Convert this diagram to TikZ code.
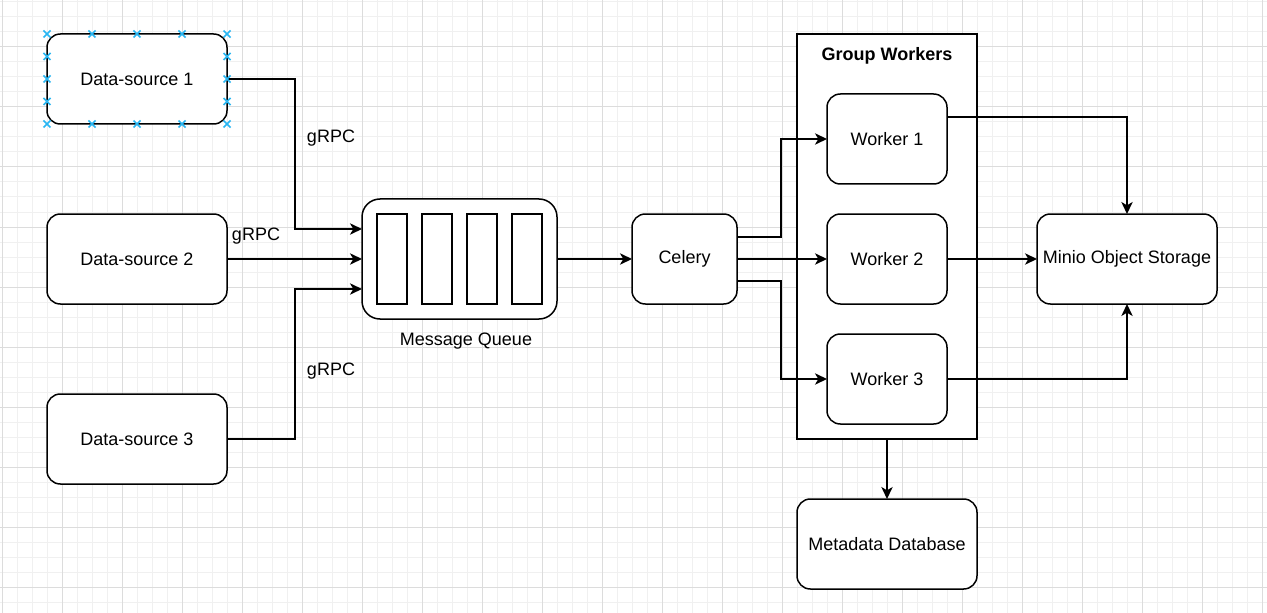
\documentclass[tikz,border=0pt]{standalone}
\usepackage{fontspec}
\setmainfont{Liberation Sans}
\usetikzlibrary{arrows.meta}
\definecolor{gridmajor}{RGB}{220,220,220}
\definecolor{gridminor}{RGB}{240,240,240}
\definecolor{handle}{RGB}{41,182,242}
\tikzset{
  box/.style={draw=black,fill=white,line width=1.125pt,rounded corners=10pt,
    inner sep=0pt,outer sep=0pt,minimum width=135pt,minimum height=67.5pt,
    font=\fontsize{13.5}{16}\selectfont},
  workerbox/.style={box,minimum width=90pt},
  link/.style={line width=1.125pt,-{Stealth[length=9pt,width=8.5pt,inset=2.5pt]}},
  label/.style={font=\fontsize{13.5}{16}\selectfont,inner sep=0pt}
}
\begin{document}
\begin{tikzpicture}[x=0.75pt,y=-0.75pt]
    \useasboundingbox (0,0) rectangle (1267,613);
    \fill[white] (0,0) rectangle (1267,613);
    % Grid
    \foreach \gx in {0,...,84} \draw[gridminor,line width=0.75pt] (2+15*\gx,0) -- (2+15*\gx,613);
    \foreach \gy in {0,...,40} \draw[gridminor,line width=0.75pt] (0,2+15*\gy) -- (1267,2+15*\gy);
    \foreach \gx in {0,...,21} \draw[gridmajor,line width=0.75pt] (2+60*\gx,0) -- (2+60*\gx,613);
    \foreach \gy in {0,...,9} \draw[gridmajor,line width=0.75pt] (0,47+60*\gy) -- (1267,47+60*\gy);
    % Fuentes de datos
    \node[box] (ds1) at (137,79) {Data-source 1};
    \node[box] (ds2) at (137,259) {Data-source 2};
    \node[box] (ds3) at (137,439) {Data-source 3};
    % Cola de mensajes
    \node[box,minimum width=146.25pt,minimum height=90pt,rounded corners=13.5pt] (mq) at (459.5,259) {};
    \foreach \cx [count=\ci] in {392,437,482,527}
      \node[draw=black,fill=white,line width=1.125pt,inner sep=0pt,
        minimum width=22.5pt,minimum height=67.5pt] (cell\ci) at (\cx,259) {};
    \node[label] (mqlabel) at (466,341) {Message Queue};
    \node[box,minimum width=78.75pt] (celery) at (684.5,259) {Celery};
    % Grupo de workers
    \node[draw=black,fill=white,line width=1.125pt,inner sep=0pt,outer sep=0pt,
      minimum width=135pt,minimum height=303.75pt] (group) at (887,236.5) {};
    \node[label,font=\fontsize{13.5}{16}\selectfont\bfseries] (grouplabel) at (887,56) {Group Workers};
    \node[workerbox] (w1) at (887,139) {Worker 1};
    \node[workerbox] (w2) at (887,259) {Worker 2};
    \node[workerbox] (w3) at (887,379) {Worker 3};
    \node[box] (minio) at (1127,259) {Minio Object Storage};
    \node[box] (meta) at (887,544) {Metadata Database};
    % Conexiones
    \draw[link] (ds1.east) -- ++(68,0) |- ([yshift=22.5pt]mq.west);
    \draw[link] (ds2.east) -- (mq.west);
    \draw[link] (ds3.east) -- ++(68,0) |- ([yshift=-22.5pt]mq.west);
    \draw[link] (mq.east) -- (celery.west);
    \draw[link] ([yshift=16.5pt]celery.east) -- ++(44,0) |- (w1.west);
    \draw[link] (celery.east) -- (w2.west);
    \draw[link] ([yshift=-16.5pt]celery.east) -- ++(44,0) |- (w3.west);
    \draw[link] ([yshift=16.5pt]w1.east) -| (minio.north);
    \draw[link] (w2.east) -- (minio.west);
    \draw[link] (w3.east) -| (minio.south);
    \draw[link] (group.south) -- (meta.north);
    % Etiquetas
    \node[label] (grpc1) at (331,138) {gRPC};
    \node[label] (grpc2) at (256,236) {gRPC};
    \node[label] (grpc3) at (331,371) {gRPC};
    % Marcas de conexión
    \foreach \hx in {47,92,137,182,227}
      \foreach \hy in {34,124}
        \draw[handle,line width=1.1pt] (\hx-3.5,\hy-3.5) -- (\hx+3.5,\hy+3.5)
          (\hx-3.5,\hy+3.5) -- (\hx+3.5,\hy-3.5);
    \foreach \hy in {56.5,79,101.5}
      \foreach \hx in {47,227}
        \draw[handle,line width=1.1pt] (\hx-3.5,\hy-3.5) -- (\hx+3.5,\hy+3.5)
          (\hx-3.5,\hy+3.5) -- (\hx+3.5,\hy-3.5);
  \end{tikzpicture}
\end{document}
